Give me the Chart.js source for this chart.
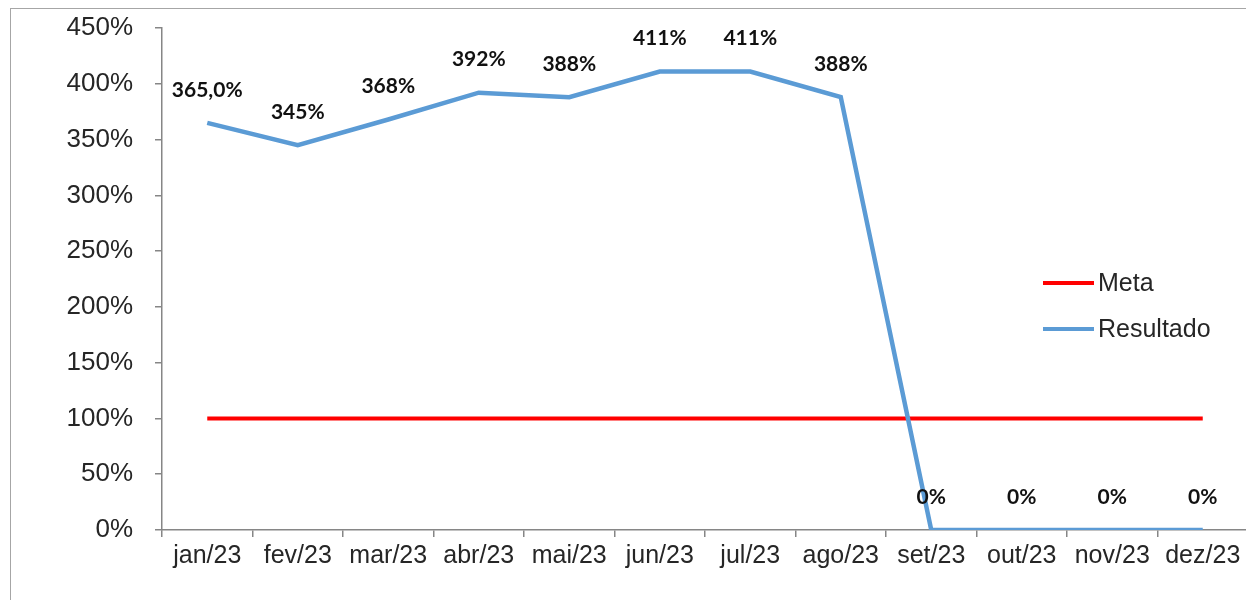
<!DOCTYPE html>
<html>
<head>
<meta charset="utf-8">
<script src="https://cdn.jsdelivr.net/npm/chart.js@4/dist/chart.umd.min.js"></script>
<style>
  html, body { margin: 0; padding: 0; background: #fff; overflow: hidden; width: 1246px; height: 600px; }
  #frame { position: absolute; left: 10px; top: 8px; width: 1300px; height: 700px; border: 1px solid #a6a6a6; box-sizing: border-box; }
  #c { position: absolute; left: 0; top: 0; }
</style>
</head>
<body>
<div id="frame"></div>
<canvas id="c" width="1250" height="600"></canvas>
<script>
const categories = ['jan/23','fev/23','mar/23','abr/23','mai/23','jun/23','jul/23','ago/23','set/23','out/23','nov/23','dez/23'];
const metaValues = [100,100,100,100,100,100,100,100,100,100,100,100];
const resultadoValues = [365,345,368,392,388,411,411,388,0,0,0,0];
const resultadoLabels = ['365,0%','345%','368%','392%','388%','411%','411%','388%','0%','0%','0%','0%'];
const yTickStep = 50;
const yMax = 450;

const axisColor = '#868686';
const textColor = '#262626';

const dataLabelPlugin = {
  id: 'dataLabels',
  afterDatasetsDraw(chart) {
    const ctx = chart.ctx;
    const idx = chart.data.datasets.findIndex(d => d.label === 'Resultado');
    const meta = chart.getDatasetMeta(idx);
    ctx.save();
    ctx.font = 'bold 21px Lato, "Noto Sans", sans-serif';
    ctx.fillStyle = '#111';
    ctx.textAlign = 'center';
    ctx.textBaseline = 'middle';
    meta.data.forEach((pt, i) => {
      ctx.fillText(resultadoLabels[i], pt.x, pt.y - 33);
    });
    ctx.restore();
  }
};

const legendPlugin = {
  id: 'customLegend',
  afterDraw(chart) {
    const ctx = chart.ctx;
    const items = chart.data.datasets;
    const x0 = 1043, x1 = 1094, yStart = 283, gap = 46;
    ctx.save();
    ctx.font = '25px "Liberation Sans", Arial, sans-serif';
    ctx.textBaseline = 'middle';
    ctx.textAlign = 'left';
    items.forEach((ds, i) => {
      const y = yStart + i * gap;
      ctx.strokeStyle = ds.borderColor;
      ctx.lineWidth = 4;
      ctx.lineCap = 'butt';
      ctx.beginPath();
      ctx.moveTo(x0, y);
      ctx.lineTo(x1, y);
      ctx.stroke();
      ctx.fillStyle = textColor;
      ctx.fillText(ds.label, x1 + 4, y + 1);
    });
    ctx.restore();
  }
};

new Chart(document.getElementById('c'), {
  type: 'line',
  data: {
    labels: categories,
    datasets: [
      { label: 'Meta', data: metaValues, borderColor: '#FF0000', backgroundColor: '#FF0000', borderWidth: 4, pointRadius: 0, tension: 0, order: 1 },
      { label: 'Resultado', data: resultadoValues, borderColor: '#5B9BD5', backgroundColor: '#5B9BD5', borderWidth: 4.5, pointRadius: 0, tension: 0, order: 0 }
    ]
  },
  options: {
    responsive: false,
    devicePixelRatio: 1,
    animation: false,
    layout: { padding: { left: 0, top: 28, right: 2, bottom: 0 } },
    plugins: { legend: { display: false }, tooltip: { enabled: false } },
    scales: {
      x: {
        offset: true,
        grid: { display: true, drawOnChartArea: false, drawTicks: true, tickLength: 7, color: axisColor, lineWidth: 1.5, offset: true },
        border: { display: true, color: axisColor, width: 1.5 },
        ticks: { color: textColor, font: { family: '"Liberation Sans", Arial, sans-serif', size: 25 }, padding: 4, maxRotation: 0, autoSkip: false },
        afterFit(scale) { scale.height = 70; scale.paddingLeft = 0; scale.paddingRight = 0; }
      },
      y: {
        min: 0, max: yMax,
        grid: { display: true, drawOnChartArea: false, drawTicks: true, tickLength: 7, color: axisColor, lineWidth: 1.5 },
        border: { display: true, color: axisColor, width: 1.5 },
        ticks: { stepSize: yTickStep, color: textColor, font: { family: '"Liberation Sans", Arial, sans-serif', size: 26 }, padding: 22, callback: v => v + '%' },
        afterFit(scale) { scale.width = 162; scale.paddingTop = 0; scale.paddingBottom = 0; }
      }
    }
  },
  plugins: [dataLabelPlugin, legendPlugin]
});
</script>
</body>
</html>
